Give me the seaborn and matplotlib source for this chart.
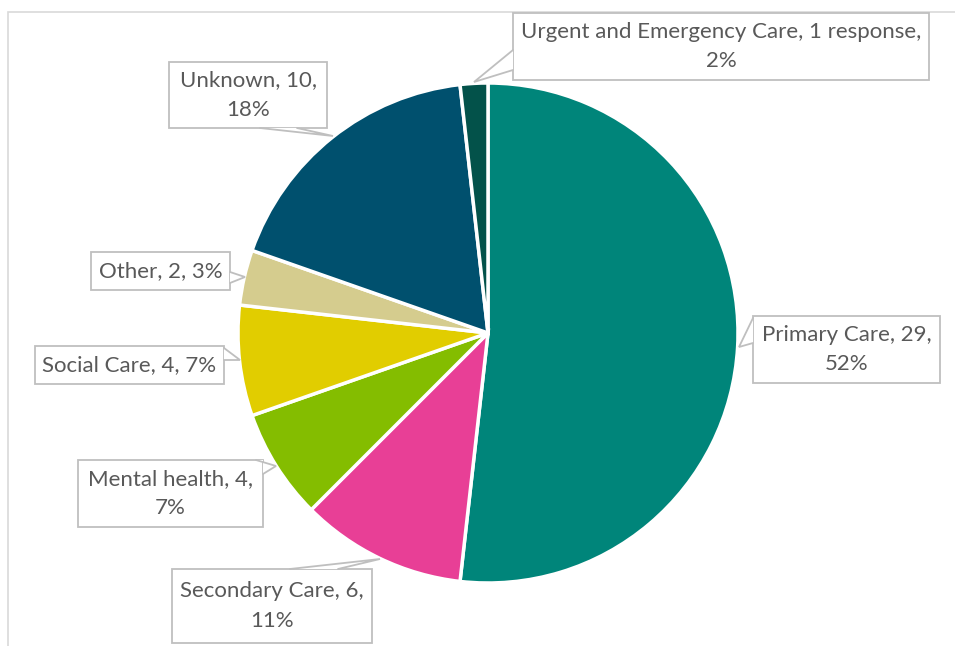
import numpy as np
import matplotlib
matplotlib.use("Agg")
import matplotlib.pyplot as plt
from matplotlib.patches import Rectangle, Polygon
import seaborn as sns

# data
categories = ["Primary Care", "Secondary Care", "Mental health", "Social Care",
              "Other", "Unknown", "Urgent and Emergency Care"]
counts = [29, 6, 4, 4, 2, 10, 1]
count_text = ["29", "6", "4", "4", "2", "10", "1 response"]
percents = [52, 11, 7, 7, 3, 18, 2]
colours = ["#00857A", "#E83F96", "#84BD00", "#E1CD00", "#D5CC8E", "#00506E", "#03524A"]

W, H = 955, 646

# callout layout in pixel coords (y down): box (x0, y0, x1, y1), pointer polygon
boxes = [
    (753, 316, 940, 383),
    (172, 569, 372, 643),
    (78, 460, 263, 527),
    (35, 346, 224, 384),
    (91, 252, 230, 290),
    (169, 62, 327, 128),
    (513, 13, 929, 80),
]
pointers = [
    [(753, 318), (739, 347), (753, 343)],
    [(290, 569), (380, 559), (338, 569)],
    [(256, 460), (276, 466), (263, 474), (263, 460)],
    [(224, 348), (240, 360), (224, 360)],
    [(230, 272), (245, 277), (230, 283)],
    [(260, 128), (333, 136), (297, 128)],
    [(513, 50), (474, 82), (513, 70)],
]
line_breaks = [True, True, True, False, False, True, True]

sns.set_theme(style="white")
plt.rcParams["font.family"] = ["Lato", "DejaVu Sans"]

fig = plt.figure(figsize=(W / 100, H / 100), dpi=100)
ax = fig.add_axes([0, 0, 1, 1])


def px(x, y):
    return x, H - y


ax.pie(counts, colors=sns.color_palette(colours), startangle=90, counterclock=False,
       center=px(488, 333), radius=250,
       wedgeprops=dict(edgecolor="white", linewidth=2.5))

ax.set_xlim(0, W)
ax.set_ylim(0, H)
ax.set_aspect("equal")
ax.axis("off")

# chart frame
ax.add_patch(Rectangle(px(8, 700), 1000, 700 - 12, fill=False,
                       edgecolor="#D9D9D9", linewidth=1.2, zorder=1))

edge = "#BFBFBF"
for cat, ct, pc, box, ptr, brk in zip(categories, count_text, percents, boxes, pointers, line_breaks):
    x0, y0, x1, y1 = box
    ax.add_patch(Rectangle(px(x0, y1), x1 - x0, y1 - y0, facecolor="white",
                           edgecolor=edge, linewidth=1.3, zorder=3))
    pts = [px(*p) for p in ptr]
    ax.add_patch(Polygon(pts, closed=True, facecolor="white", edgecolor="none", zorder=4))
    lx = [pts[0][0], pts[1][0], pts[2][0]]
    ly = [pts[0][1], pts[1][1], pts[2][1]]
    ax.plot(lx, ly, color=edge, linewidth=1.3, zorder=5, solid_joinstyle="miter")
    sep = "\n" if brk else " "
    txt = f"{cat}, {ct},{sep}{pc}%"
    cx, cy = px((x0 + x1) / 2, (y0 + y1) / 2)
    ax.text(cx, cy, txt, ha="center", va="center", fontsize=16, color="#595959",
            linespacing=1.58, zorder=6)

fig.savefig("out.png", dpi=100)
